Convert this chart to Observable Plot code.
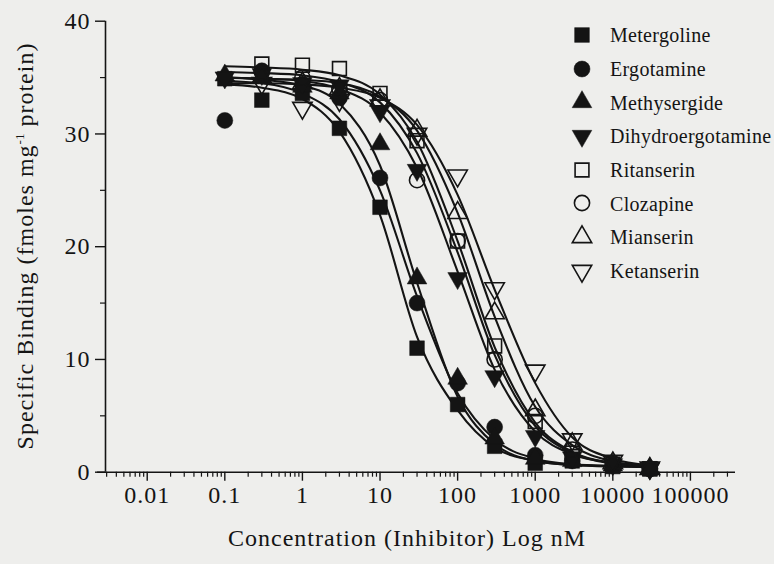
<!DOCTYPE html>
<html>
<head>
<meta charset="utf-8">
<script src="https://cdn.jsdelivr.net/npm/d3@7"></script>
<script src="https://cdn.jsdelivr.net/npm/@observablehq/plot@0.6"></script>
<style>
  body { margin: 0; background: #eeeeec; }
  #wrap { position: relative; width: 774px; height: 564px; overflow: hidden;
          font-family: "Liberation Serif", "Times New Roman", serif; color: #141414; }
  #chart { position: absolute; left: 0; top: 0; }
  #xtitle { position: absolute; left: 0; top: 526px; width: 814px; text-align: center;
            font-size: 24px; line-height: 24px; letter-spacing: 1px; white-space: nowrap; }
  #ytitle { position: absolute; left: -225px; top: 234px; width: 500px; height: 24px; text-align: center;
            font-size: 24px; line-height: 24px; letter-spacing: 1px; white-space: nowrap;
            transform: rotate(-90deg); transform-origin: 50% 50%; }
  #ytitle sup { font-size: 13px; vertical-align: 9px; line-height: 0; letter-spacing: 0; }
  #legend { position: absolute; left: 569px; top: 18.15px; }
  #legend .row { display: flex; align-items: center; height: 33.7px; }
  #legend .row svg { display: block; }
  #legend .row span { margin-left: 15px; font-size: 20px; line-height: 33.7px; letter-spacing: 0.3px;
                      white-space: nowrap; position: relative; top: 1px; }
</style>
</head>
<body>
<div id="wrap">
  <div id="chart"></div>
  <div id="ytitle">Specific Binding (fmoles mg<sup>-1</sup> protein)</div>
  <div id="xtitle">Concentration (Inhibitor) Log nM</div>
  <div id="legend"></div>
</div>
<script>
// ---------------- data ----------------
const concentrations = [0.1, 0.3, 1, 3, 10, 30, 100, 300, 1000, 3000, 10000, 30000];
const compounds = ["Metergoline", "Ergotamine", "Methysergide", "Dihydroergotamine",
                   "Ritanserin", "Clozapine", "Mianserin", "Ketanserin"];

// measured points (fmoles mg-1 protein)
const metergoline       = [34.9, 33.0, 33.6, 30.5, 23.5, 11.0, 6.0, 2.3, 0.8, 1.0, 0.5, 0.3];
const ergotamine        = [31.2, 35.6, 34.4, 33.2, 26.1, 15.0, 7.9, 4.0, 1.5, 1.0, 0.6, 0.3];
const methysergide      = [35.2, 35.0, 34.2, 33.6, 29.1, 17.2, 8.3, 3.0, 1.2, 1.0, 0.6, 0.3];
const dihydroergotamine = [35.0, 35.3, 34.5, 34.3, 32.0, 26.8, 17.2, 8.5, 3.2, 1.3, 0.7, 0.3];
const ritanserin        = [null, 36.2, 36.1, 35.8, 33.6, 29.4, 20.5, 11.2, 4.5, 1.7, 0.7, 0.3];
const clozapine         = [null, 35.5, 35.0, 34.0, 33.0, 25.9, 20.5, 10.0, 5.0, 2.0, 0.8, 0.3];
const mianserin         = [null, 35.0, 34.5, 34.0, 33.0, 30.3, 23.0, 14.1, 5.5, 2.5, 0.8, 0.3];
const ketanserin        = [null, 34.5, 32.3, 33.0, 32.5, 30.0, 26.3, 16.3, 9.0, 2.9, 1.0, 0.4];

// fitted curves at the same concentrations
const metergolineFit       = [34.4, 34.1, 33.1, 30.2, 22.8, 12.0, 5.5, 2.2, 1.0, 0.65, 0.5, 0.45];
const ergotamineFit        = [34.7, 34.5, 33.6, 31.3, 25.0, 15.6, 7.0, 2.9, 1.2, 0.7, 0.55, 0.5];
const methysergideFit      = [35.0, 34.8, 34.3, 32.7, 27.2, 16.8, 6.7, 2.5, 1.0, 0.65, 0.55, 0.5];
const dihydroergotamineFit = [35.0, 34.9, 34.7, 34.0, 31.9, 27.0, 17.8, 9.1, 3.6, 1.6, 0.85, 0.6];
const ritanserinFit        = [36.0, 35.9, 35.7, 35.2, 33.5, 29.3, 20.5, 11.1, 4.4, 1.8, 0.8, 0.45];
const clozapineFit         = [35.5, 35.4, 35.2, 34.6, 32.8, 28.3, 19.5, 10.4, 4.1, 1.7, 0.75, 0.45];
const mianserinFit         = [35.0, 34.9, 34.8, 34.5, 33.3, 30.3, 23.0, 13.8, 5.8, 2.4, 0.95, 0.5];
const ketanserinFit        = [34.5, 34.5, 34.4, 34.1, 33.2, 30.8, 24.6, 16.2, 7.9, 3.1, 1.2, 0.6];

const xTicks = [0.01, 0.1, 1, 10, 100, 1000, 10000, 100000];
const xTickLabels = ["0.01", "0.1", "1", "10", "100", "1000", "10000", "100000"];
const yTicks = [0, 10, 20, 30, 40];
const yTickLabels = ["0", "10", "20", "30", "40"];
const yMinor = [5, 15, 25, 35];

// ---------------- build ----------------
const points = [metergoline, ergotamine, methysergide, dihydroergotamine, ritanserin, clozapine, mianserin, ketanserin];
const fits = [metergolineFit, ergotamineFit, methysergideFit, dihydroergotamineFit, ritanserinFit, clozapineFit, mianserinFit, ketanserinFit];

const pointRows = [], fitRows = [];
compounds.forEach((name, i) => {
  points[i].forEach((v, j) => { if (v != null) pointRows.push({name, conc: concentrations[j], value: v}); });
  fits[i].forEach((v, j) => fitRows.push({name, conc: concentrations[j], fit: v}));
});

const downTriangle = {
  draw(context, size) {
    const s3 = Math.sqrt(3);
    const y = -Math.sqrt(size / (s3 * 3));
    context.moveTo(0, -y * 2);
    context.lineTo(-s3 * y, y);
    context.lineTo(s3 * y, y);
    context.closePath();
  }
};
const symbols = [d3.symbolSquare, d3.symbolCircle, d3.symbolTriangle, downTriangle,
                 d3.symbolSquare, d3.symbolCircle, d3.symbolTriangle, downTriangle];
const radii = [8.3, 8, 7.3, 7.3, 7.8, 7.6, 7.2, 7.2];
const filled = [true, true, true, true, false, false, false, false];

const ink = "#141414";
const W = 774, H = 564;
const mL = 105, mR = 39, mT = 20.7, mB = 92.3;
const frameW = W - mL - mR, frameH = H - mT - mB;
const xDomain = [0.0029, 381000];

const xMinor = [];
[0.001].concat(xTicks).forEach(d => { for (let k = 2; k <= 9; k++) { const v = d * k; if (v > xDomain[0] && v < xDomain[1]) xMinor.push(v); } });

const dotMarks = compounds.map((name, i) => Plot.dot(pointRows.filter(r => r.name === name), {
  x: "conc", y: "value", symbol: symbols[i], r: radii[i],
  fill: filled[i] ? ink : "none", stroke: ink, strokeWidth: filled[i] ? 0.5 : 1.6
}));

const chart = Plot.plot({
  width: W, height: H,
  marginLeft: mL, marginRight: mR, marginTop: mT, marginBottom: mB,
  style: {background: "transparent", fontFamily: "'Liberation Serif', 'Times New Roman', serif",
          fontSize: "24px", color: ink, letterSpacing: "1px", overflow: "visible"},
  x: {type: "log", domain: xDomain, ticks: xTicks, tickSize: 0, tickPadding: 14, label: null,
      tickFormat: d => xTickLabels[xTicks.indexOf(d)]},
  y: {domain: [0, 40], ticks: yTicks, tickSize: 0, tickPadding: 15, label: null,
      tickFormat: d => yTickLabels[yTicks.indexOf(d)]},
  marks: [
    Plot.line(fitRows, {x: "conc", y: "fit", z: "name", stroke: ink, strokeWidth: 2.1, curve: "monotone-x"}),
    ...dotMarks,
    Plot.ruleY([0], {x1: 0.00229, x2: xDomain[1], stroke: ink, strokeWidth: 1.6}),
    Plot.ruleX([xDomain[0]], {y1: 0, y2: 40, stroke: ink, strokeWidth: 1.6}),
    Plot.tickX(xTicks, {x: d => d, insetTop: frameH, insetBottom: -9, stroke: ink, strokeWidth: 1.4}),
    Plot.tickX(xMinor, {x: d => d, insetTop: frameH, insetBottom: -5, stroke: ink, strokeWidth: 1.2}),
    Plot.tickY(yTicks, {y: d => d, insetLeft: -10, insetRight: frameW, stroke: ink, strokeWidth: 1.4}),
    Plot.tickY(yMinor, {y: d => d, insetLeft: -5, insetRight: frameW, stroke: ink, strokeWidth: 1.2})
  ]
});
document.getElementById("chart").appendChild(chart);

// ---------------- legend ----------------
const legend = d3.select("#legend");
compounds.forEach((name, i) => {
  const row = legend.append("div").attr("class", "row");
  const svg = row.append("svg").attr("width", 26).attr("height", 26);
  svg.append("path")
    .attr("transform", "translate(13,13)")
    .attr("d", d3.symbol(symbols[i], Math.PI * radii[i] * radii[i])())
    .attr("fill", filled[i] ? ink : "none")
    .attr("stroke", ink)
    .attr("stroke-width", filled[i] ? 0.5 : 1.6);
  row.append("span").text(name);
});
</script>
</body>
</html>
